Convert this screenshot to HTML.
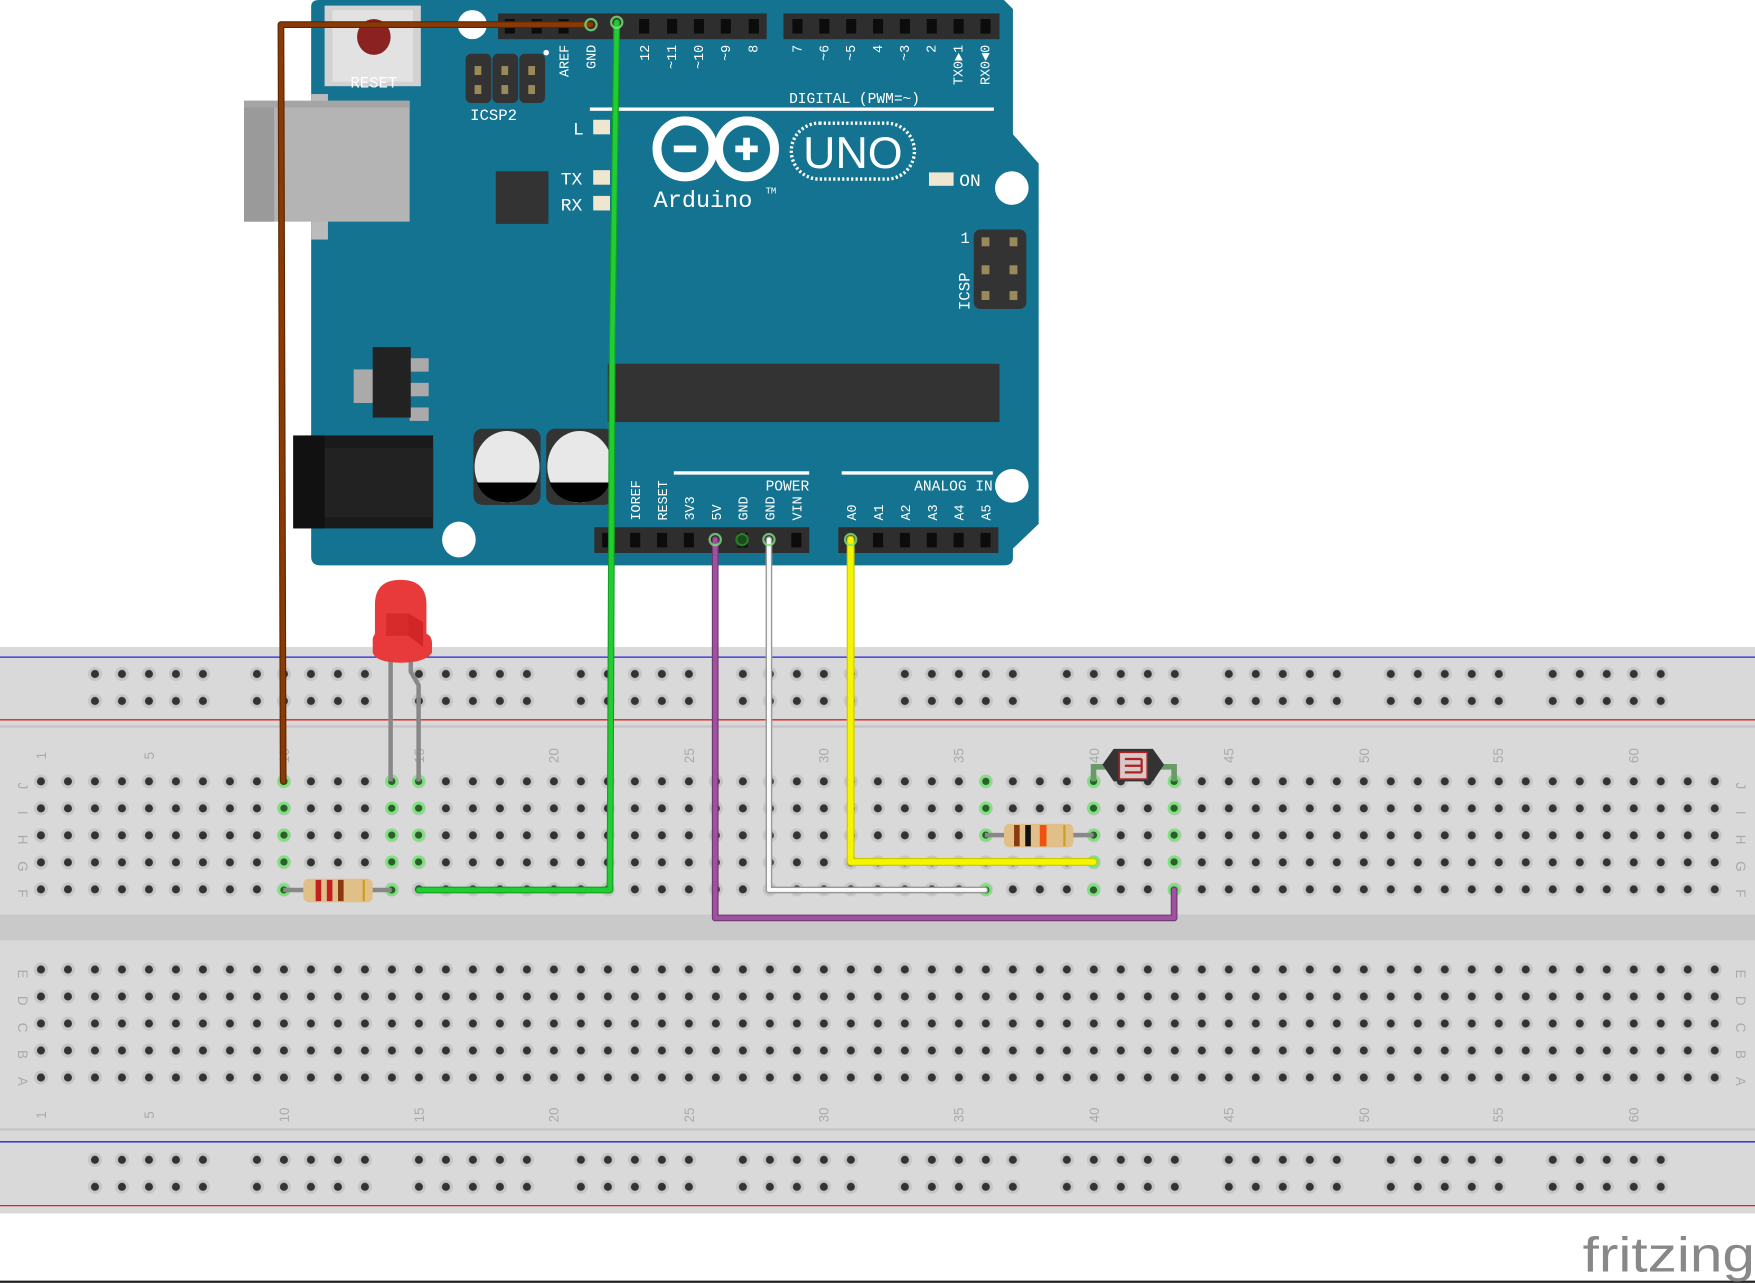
<!DOCTYPE html>
<html><head><meta charset="utf-8"><style>
html,body{margin:0;padding:0;background:#fff;width:1755px;height:1284px;overflow:hidden}
svg{display:block}
.t{font-family:"Liberation Mono",monospace;fill:#fff}
.n{font-family:"Liberation Sans",sans-serif;fill:#aaa;font-size:12px}
</style></head><body>
<svg width="1755" height="1284" viewBox="0 0 1568 1147" preserveAspectRatio="none" xmlns="http://www.w3.org/2000/svg">
<defs>
<pattern id="h" patternUnits="userSpaceOnUse" x="24.54" y="685.94" width="24.12" height="24.12">
<circle cx="12.06" cy="12.06" r="6.3" fill="#c6c6c6"/><circle cx="12.06" cy="12.06" r="3.6" fill="#333"/></pattern>
<pattern id="h2" patternUnits="userSpaceOnUse" x="24.54" y="854" width="24.12" height="24.12">
<circle cx="12.06" cy="12.06" r="6.3" fill="#c6c6c6"/><circle cx="12.06" cy="12.06" r="3.6" fill="#333"/></pattern>
<pattern id="r" patternUnits="userSpaceOnUse" x="72.78" y="590" width="144.72" height="24.12">
<g fill="#c6c6c6"><circle cx="12.06" cy="12.06" r="6.3"/><circle cx="36.18" cy="12.06" r="6.3"/><circle cx="60.3" cy="12.06" r="6.3"/><circle cx="84.42" cy="12.06" r="6.3"/><circle cx="108.54" cy="12.06" r="6.3"/></g>
<g fill="#333"><circle cx="12.06" cy="12.06" r="3.6"/><circle cx="36.18" cy="12.06" r="3.6"/><circle cx="60.3" cy="12.06" r="3.6"/><circle cx="84.42" cy="12.06" r="3.6"/><circle cx="108.54" cy="12.06" r="3.6"/></g></pattern>
<pattern id="r2" patternUnits="userSpaceOnUse" x="72.78" y="1024" width="144.72" height="24.12">
<g fill="#c6c6c6"><circle cx="12.06" cy="12.06" r="6.3"/><circle cx="36.18" cy="12.06" r="6.3"/><circle cx="60.3" cy="12.06" r="6.3"/><circle cx="84.42" cy="12.06" r="6.3"/><circle cx="108.54" cy="12.06" r="6.3"/></g>
<g fill="#333"><circle cx="12.06" cy="12.06" r="3.6"/><circle cx="36.18" cy="12.06" r="3.6"/><circle cx="60.3" cy="12.06" r="3.6"/><circle cx="84.42" cy="12.06" r="3.6"/><circle cx="108.54" cy="12.06" r="3.6"/></g></pattern>
</defs>

<rect x="0" y="578" width="1568" height="506" fill="#d9d9d9"/>
<rect x="0" y="648" width="1568" height="2" fill="#c4c4c4"/>
<rect x="0" y="817" width="1568" height="23" fill="#c9c9c9"/>
<rect x="0" y="1008" width="1568" height="2" fill="#c4c4c4"/>
<line x1="0" y1="587" x2="1568" y2="587" stroke="#2222dd" stroke-width="1.2"/>
<line x1="0" y1="643" x2="1568" y2="643" stroke="#dd2222" stroke-width="1.2"/>
<line x1="0" y1="1020" x2="1568" y2="1020" stroke="#2222dd" stroke-width="1.2"/>
<line x1="0" y1="1077" x2="1568" y2="1077" stroke="#dd2222" stroke-width="1.2"/>
<rect x="72.78" y="590" width="1447" height="48.24" fill="url(#r)"/>
<rect x="72.78" y="1024" width="1447" height="48.24" fill="url(#r2)"/>
<rect x="24.54" y="685.94" width="1519.6" height="120.6" fill="url(#h)"/>
<rect x="24.54" y="854" width="1519.6" height="120.6" fill="url(#h2)"/>
<line x1="0" y1="1145" x2="1568" y2="1145" stroke="#222" stroke-width="2"/>

<g class="n" text-anchor="middle">
<text transform="translate(16,702) rotate(90)">J</text><text transform="translate(16,726) rotate(90)">I</text><text transform="translate(16,750) rotate(90)">H</text><text transform="translate(16,774) rotate(90)">G</text><text transform="translate(16,798) rotate(90)">F</text>
<text transform="translate(16,870) rotate(90)">E</text><text transform="translate(16,894) rotate(90)">D</text><text transform="translate(16,918) rotate(90)">C</text><text transform="translate(16,942) rotate(90)">B</text><text transform="translate(16,966) rotate(90)">A</text>
<text transform="translate(1551,702) rotate(90)">J</text><text transform="translate(1551,726) rotate(90)">I</text><text transform="translate(1551,750) rotate(90)">H</text><text transform="translate(1551,774) rotate(90)">G</text><text transform="translate(1551,798) rotate(90)">F</text>
<text transform="translate(1551,870) rotate(90)">E</text><text transform="translate(1551,894) rotate(90)">D</text><text transform="translate(1551,918) rotate(90)">C</text><text transform="translate(1551,942) rotate(90)">B</text><text transform="translate(1551,966) rotate(90)">A</text>
</g>
<g class="n" text-anchor="middle">
<text transform="translate(41,675) rotate(-90)">1</text><text transform="translate(137.5,675) rotate(-90)">5</text><text transform="translate(258,675) rotate(-90)">10</text><text transform="translate(379,675) rotate(-90)">15</text><text transform="translate(499,675) rotate(-90)">20</text><text transform="translate(620,675) rotate(-90)">25</text><text transform="translate(740,675) rotate(-90)">30</text><text transform="translate(861,675) rotate(-90)">35</text><text transform="translate(982,675) rotate(-90)">40</text><text transform="translate(1102,675) rotate(-90)">45</text><text transform="translate(1223,675) rotate(-90)">50</text><text transform="translate(1343,675) rotate(-90)">55</text><text transform="translate(1464,675) rotate(-90)">60</text>
<text transform="translate(41,996) rotate(-90)">1</text><text transform="translate(137.5,996) rotate(-90)">5</text><text transform="translate(258,996) rotate(-90)">10</text><text transform="translate(379,996) rotate(-90)">15</text><text transform="translate(499,996) rotate(-90)">20</text><text transform="translate(620,996) rotate(-90)">25</text><text transform="translate(740,996) rotate(-90)">30</text><text transform="translate(861,996) rotate(-90)">35</text><text transform="translate(982,996) rotate(-90)">40</text><text transform="translate(1102,996) rotate(-90)">45</text><text transform="translate(1223,996) rotate(-90)">50</text><text transform="translate(1343,996) rotate(-90)">55</text><text transform="translate(1464,996) rotate(-90)">60</text>
</g>

<g fill="#2d5f2d" stroke="#7ee07e" stroke-width="2.5">
<circle cx="253.7" cy="698" r="4.5"/><circle cx="253.7" cy="722" r="4.5"/><circle cx="253.7" cy="746" r="4.5"/><circle cx="253.7" cy="770" r="4.5"/><circle cx="253.7" cy="795" r="4.5"/>
<circle cx="350" cy="698" r="4.5"/><circle cx="350" cy="722" r="4.5"/><circle cx="350" cy="746" r="4.5"/><circle cx="350" cy="770" r="4.5"/><circle cx="350" cy="795" r="4.5"/>
<circle cx="374" cy="698" r="4.5"/><circle cx="374" cy="722" r="4.5"/><circle cx="374" cy="746" r="4.5"/><circle cx="374" cy="770" r="4.5"/>
<circle cx="880.8" cy="698" r="4.5"/><circle cx="880.8" cy="722" r="4.5"/><circle cx="880.8" cy="746" r="4.5"/><circle cx="880.8" cy="795" r="4.5"/>
<circle cx="977" cy="698" r="4.5"/><circle cx="977" cy="722" r="4.5"/><circle cx="977" cy="746" r="4.5"/><circle cx="977" cy="770" r="4.5"/><circle cx="977" cy="795" r="4.5"/>
<circle cx="1049" cy="698" r="4.5"/><circle cx="1049" cy="722" r="4.5"/><circle cx="1049" cy="746" r="4.5"/><circle cx="1049" cy="770" r="4.5"/><circle cx="1049" cy="795" r="4.5"/>
</g>

<path d="M278,6 Q278,0 285,0 L897,0 L905,8 L905,120 L928,146 L928,468 L905,490 L905,498 Q905,505 897,505 L286,505 Q278,505 278,497 Z" fill="#137391"/>
<rect x="278" y="84" width="15" height="130" fill="#bbb"/>
<rect x="218" y="90" width="148" height="108" fill="#b4b4b4"/>
<rect x="218" y="90" width="27" height="108" fill="#9a9a9a"/>
<rect x="218" y="90" width="148" height="6" fill="#a5a5a5"/>
<rect x="290" y="5" width="86" height="72" fill="#d2d2d2"/>
<rect x="297" y="9" width="72" height="64" fill="#e2e2e2"/>
<ellipse cx="334" cy="33" rx="15" ry="16" fill="#8b2222"/>
<text class="t" x="334" y="78" text-anchor="middle" style="font-size:14px">RESET</text>
<circle cx="422" cy="22" r="13" fill="#fff"/>
<g fill="#333"><rect x="416" y="48" width="23" height="44" rx="5"/><rect x="440" y="48" width="23" height="44" rx="5"/><rect x="464" y="48" width="23" height="44" rx="5"/></g>
<g fill="#9a8a5a"><rect x="424" y="59" width="6" height="8"/><rect x="448" y="59" width="6" height="8"/><rect x="472" y="59" width="6" height="8"/><rect x="424" y="76" width="6" height="8"/><rect x="448" y="76" width="6" height="8"/><rect x="472" y="76" width="6" height="8"/></g>
<text class="t" x="441" y="107" text-anchor="middle" style="font-size:14px">ICSP2</text>
<circle cx="488" cy="47" r="2.5" fill="#fff"/>
<rect x="445" y="12" width="240" height="23" fill="#2e2e2e"/>
<rect x="700" y="12" width="193" height="23" fill="#2e2e2e"/>
<g fill="#0c0c0c">
<rect x="451" y="17" width="9" height="13"/><rect x="475" y="17" width="9" height="13"/><rect x="499" y="17" width="9" height="13"/><rect x="571" y="17" width="9" height="13"/><rect x="596" y="17" width="9" height="13"/><rect x="620" y="17" width="9" height="13"/><rect x="644" y="17" width="9" height="13"/><rect x="669" y="17" width="9" height="13"/>
<rect x="708" y="17" width="9" height="13"/><rect x="732" y="17" width="9" height="13"/><rect x="756" y="17" width="9" height="13"/><rect x="780" y="17" width="9" height="13"/><rect x="804" y="17" width="9" height="13"/><rect x="828" y="17" width="9" height="13"/><rect x="852" y="17" width="9" height="13"/><rect x="876" y="17" width="9" height="13"/>
</g>
<g class="t" text-anchor="end" style="font-size:12px">
<text transform="translate(508,40) rotate(-90)">AREF</text><text transform="translate(532,40) rotate(-90)">GND</text>
<text transform="translate(580,40) rotate(-90)">12</text><text transform="translate(604,40) rotate(-90)">~11</text><text transform="translate(628,40) rotate(-90)">~10</text><text transform="translate(652,40) rotate(-90)">~9</text><text transform="translate(677,40) rotate(-90)">8</text>
<text transform="translate(716,40) rotate(-90)">7</text><text transform="translate(740,40) rotate(-90)">~6</text><text transform="translate(764,40) rotate(-90)">~5</text><text transform="translate(788,40) rotate(-90)">4</text><text transform="translate(812,40) rotate(-90)">~3</text><text transform="translate(836,40) rotate(-90)">2</text><text transform="translate(860,40) rotate(-90)">TX0►1</text><text transform="translate(884,40) rotate(-90)">RX0◄0</text>
</g>
<text class="t" x="705" y="92" style="font-size:13px">DIGITAL (PWM=~)</text>
<rect x="527" y="96" width="361" height="3" fill="#fff"/>
<g fill="#efe6cf"><rect x="530" y="107" width="15" height="13"/><rect x="530" y="152" width="15" height="13"/><rect x="530" y="175" width="15" height="13"/><rect x="830" y="154" width="22" height="12"/></g>
<text class="t" x="512" y="120" style="font-size:16px">L</text>
<text class="t" x="501" y="165" style="font-size:16px">TX</text>
<text class="t" x="501" y="188" style="font-size:16px">RX</text>
<text class="t" x="857" y="166" style="font-size:16px">ON</text>
<rect x="443" y="153" width="47" height="47" fill="#333"/>
<circle cx="612" cy="133" r="25" fill="none" stroke="#fff" stroke-width="8"/>
<circle cx="667" cy="133" r="25" fill="none" stroke="#fff" stroke-width="8"/>
<rect x="602" y="130" width="20" height="6" fill="#fff"/>
<rect x="657" y="130" width="20" height="6" fill="#fff"/>
<rect x="664" y="123" width="6" height="20" fill="#fff"/>
<rect x="707" y="110" width="110" height="50" rx="25" fill="none" stroke="#fff" stroke-width="3" stroke-dasharray="2 2"/>
<text x="762" y="150" text-anchor="middle" font-family="Liberation Sans,sans-serif" font-size="40" fill="#fff">UNO</text>
<text class="t" x="584" y="185" style="font-size:21px">Arduino</text>
<text class="t" x="684" y="173" style="font-size:8px">TM</text>
<circle cx="904" cy="168" r="15" fill="#fff"/>
<rect x="870" y="205" width="47" height="71" rx="6" fill="#333"/>
<g fill="#9a8a5a"><rect x="877" y="212" width="7" height="8"/><rect x="902" y="212" width="7" height="8"/><rect x="877" y="237" width="7" height="8"/><rect x="902" y="237" width="7" height="8"/><rect x="877" y="260" width="7" height="8"/><rect x="902" y="260" width="7" height="8"/></g>
<text class="t" x="858" y="217" style="font-size:14px">1</text>
<text class="t" transform="translate(866,277) rotate(-90)" style="font-size:14px">ICSP</text>
<rect x="543" y="325" width="350" height="52" fill="#333"/>
<rect x="316" y="330" width="18" height="30" fill="#aaa"/>
<g fill="#aaa"><rect x="366" y="320" width="17" height="12"/><rect x="366" y="342" width="17" height="12"/><rect x="366" y="364" width="17" height="12"/></g>
<rect x="333" y="310" width="34" height="63" fill="#222"/>
<rect x="262" y="389" width="125" height="83" fill="#1a1a1a"/>
<rect x="290" y="400" width="97" height="62" fill="#222"/>
<rect x="262" y="389" width="28" height="83" fill="#111"/>
<rect x="423" y="383" width="60" height="68" rx="8" fill="#333"/>
<ellipse cx="453" cy="417" rx="29" ry="32" fill="#e8e8e8"/>
<path d="M426,431 L480,431 Q474,448 453,449 Q432,448 426,431 Z" fill="#000"/>
<rect x="488" y="383" width="60" height="68" rx="8" fill="#333"/>
<ellipse cx="518" cy="417" rx="29" ry="32" fill="#e8e8e8"/>
<path d="M491,431 L545,431 Q539,448 518,449 Q497,448 491,431 Z" fill="#000"/>
<circle cx="904" cy="434" r="15" fill="#fff"/>
<ellipse cx="410" cy="482" rx="15" ry="16" fill="#fff"/>
<rect x="602" y="421" width="121" height="3" fill="#fff"/>
<rect x="752" y="421" width="135" height="3" fill="#fff"/>
<text class="t" x="723" y="438" text-anchor="end" style="font-size:13px">POWER</text>
<text class="t" x="887" y="438" text-anchor="end" style="font-size:13px">ANALOG IN</text>
<g class="t" style="font-size:12px">
<text transform="translate(572,465) rotate(-90)">IOREF</text><text transform="translate(596,465) rotate(-90)">RESET</text><text transform="translate(620,465) rotate(-90)">3V3</text><text transform="translate(644,465) rotate(-90)">5V</text><text transform="translate(668,465) rotate(-90)">GND</text><text transform="translate(692,465) rotate(-90)">GND</text><text transform="translate(716,465) rotate(-90)">VIN</text>
<text transform="translate(765,465) rotate(-90)">A0</text><text transform="translate(789,465) rotate(-90)">A1</text><text transform="translate(813,465) rotate(-90)">A2</text><text transform="translate(837,465) rotate(-90)">A3</text><text transform="translate(861,465) rotate(-90)">A4</text><text transform="translate(885,465) rotate(-90)">A5</text>
</g>
<rect x="531" y="471" width="192" height="23" fill="#2e2e2e"/>
<rect x="749" y="471" width="143" height="23" fill="#2e2e2e"/>
<g fill="#0c0c0c">
<rect x="538" y="476" width="9" height="13"/><rect x="563" y="476" width="9" height="13"/><rect x="587" y="476" width="9" height="13"/><rect x="611" y="476" width="9" height="13"/><rect x="659" y="476" width="9" height="13"/><rect x="707" y="476" width="9" height="13"/>
<rect x="780" y="476" width="9" height="13"/><rect x="804" y="476" width="9" height="13"/><rect x="828" y="476" width="9" height="13"/><rect x="852" y="476" width="9" height="13"/><rect x="876" y="476" width="9" height="13"/>
</g>
<circle cx="663" cy="482" r="5" fill="#1a4a1a" stroke="#2a7a2a" stroke-width="2"/>

<g fill="none" stroke-linejoin="round" stroke-linecap="round">
<path d="M528,22 L251,22 L253,698" stroke="#5a2500" stroke-width="6"/>
<path d="M528,22 L251,22 L253,698" stroke="#8a3a05" stroke-width="4"/>
<path d="M551,20 L547,310 L545,795 L374,795" stroke="#12a020" stroke-width="6"/>
<path d="M551,20 L547,310 L545,795 L374,795" stroke="#22cc33" stroke-width="4"/>
<path d="M639,482 L639,820 L1049,820 L1049,795" stroke="#6e3a6e" stroke-width="6"/>
<path d="M639,482 L639,820 L1049,820 L1049,795" stroke="#a050a0" stroke-width="4"/>
<path d="M687,482 L687,795 L880,795" stroke="#999" stroke-width="6"/>
<path d="M687,482 L687,795 L880,795" stroke="#fafafa" stroke-width="3.5"/>
<path d="M760,482 L760,770 L977,770" stroke="#c8c800" stroke-width="7"/>
<path d="M760,482 L760,770 L977,770" stroke="#f5f500" stroke-width="5"/>
</g>
<g fill="none" stroke="#7ee07e" stroke-width="2" opacity="0.8"><circle cx="528" cy="22" r="5"/><circle cx="551" cy="20" r="5"/><circle cx="639" cy="482" r="5"/><circle cx="687" cy="482" r="5"/><circle cx="760" cy="482" r="5"/></g>

<path d="M349,590 L349,698" stroke="#888" stroke-width="4" fill="none"/>
<path d="M367,590 L367,600 L374,612 L374,698" stroke="#888" stroke-width="4" fill="none"/>
<path d="M335,540 Q335,518 358,518 Q381,518 381,540 L381,566 Q386,568 386,575 L386,583 Q380,592 358,592 Q336,592 333,583 L333,570 Q335,566 335,566 Z" fill="#e83a3a"/>
<rect x="345" y="548" width="20" height="20" fill="#c22" opacity="0.6"/>
<path d="M365,548 L378,556 L378,578 L365,568 Z" fill="#b11" opacity="0.5"/>

<line x1="253" y1="795" x2="350" y2="795" stroke="#888" stroke-width="4"/>
<rect x="271" y="785" width="62" height="21" rx="5" fill="#e0c088"/>
<rect x="282" y="786" width="5" height="19" fill="#c02020"/><rect x="292" y="786" width="5" height="19" fill="#c02020"/><rect x="302" y="786" width="5" height="19" fill="#8b3a10"/><rect x="324" y="786" width="2" height="19" fill="#c9a020"/>
<line x1="880" y1="746" x2="977" y2="746" stroke="#888" stroke-width="4"/>
<rect x="897" y="736" width="62" height="21" rx="5" fill="#e0c088"/>
<rect x="906" y="737" width="5" height="19" fill="#8b3a10"/><rect x="916" y="737" width="5" height="19" fill="#111"/><rect x="929" y="737" width="6" height="19" fill="#f05010"/><rect x="950" y="737" width="2" height="19" fill="#c9a020"/>
<path d="M977,698 L977,685 L1049,685 L1049,698" stroke="#6a9a6a" stroke-width="5" fill="none"/>
<path d="M995,669 L1030,669 L1040,683 L1030,698 L995,698 L985,683 Z" fill="#333"/>
<rect x="1000" y="672" width="25" height="24" fill="#d8c8c8" stroke="#a22" stroke-width="1.5"/>
<path d="M1005,678 L1020,678 M1005,684 L1020,684 M1005,690 L1020,690 M1020,678 L1020,690" stroke="#a22" stroke-width="2" fill="none"/>

<text x="1414" y="1136" font-family="Liberation Sans,sans-serif" font-size="44" fill="#888" textLength="154" lengthAdjust="spacingAndGlyphs">fritzing</text>
</svg>
</body></html>
